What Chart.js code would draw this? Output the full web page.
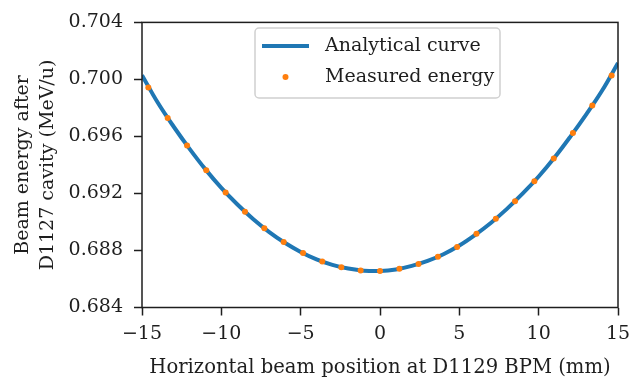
<!DOCTYPE html>
<html>
<head>
<meta charset="utf-8">
<script src="https://cdn.jsdelivr.net/npm/chart.js@4.4.1/dist/chart.umd.min.js"></script>
<style>
  html, body { margin: 0; padding: 0; background: #fff; }
  #wrap { width: 638px; height: 378px; }
</style>
</head>
<body>
<div id="wrap"><canvas id="energyChart" width="638" height="378"></canvas></div>
<script>
// analytical curve
const curveX = [-15, -14, -13, -12, -11, -10, -9, -8, -7, -6, -5, -4, -3, -2, -1, 0,
                1, 2, 3, 4, 5, 6, 7, 8, 9, 10, 11, 12, 13, 14, 15];
const curveY = [0.70030, 0.69836, 0.69668, 0.69513, 0.69369, 0.69239, 0.69124, 0.69021,
                0.68931, 0.68854, 0.68790, 0.68738, 0.68699, 0.68673, 0.68658, 0.68656,
                0.68667, 0.68692, 0.68727, 0.68774, 0.68835, 0.68910, 0.68995, 0.69092,
                0.69200, 0.69319, 0.69452, 0.69599, 0.69755, 0.69922, 0.70115];

// measured points
const measX = [-14.6, -13.38, -12.16, -10.95, -9.73, -8.51, -7.29, -6.07, -4.85, -3.64, -2.44, -1.22, 0,
               1.22, 2.43, 3.65, 4.86, 6.08, 7.3, 8.51, 9.73, 10.95, 12.16, 13.38, 14.6];
const measY = [0.69943, 0.69730, 0.69537, 0.69362, 0.69207, 0.69071, 0.68956, 0.68859, 0.68782,
               0.68722, 0.68683, 0.68660, 0.68656, 0.68671, 0.68706, 0.68756, 0.68825, 0.68917,
               0.69023, 0.69145, 0.69286, 0.69445, 0.69624, 0.69817, 0.70028];

const xTicks = [-15, -10, -5, 0, 5, 10, 15];
const yTicks = [0.684, 0.688, 0.692, 0.696, 0.700, 0.704];

const legendLabels = ['Analytical curve', 'Measured energy'];

const FONT = 'DejaVu Serif';
const INK = '#1e1e1e';

// box around the plot area (all four spines)
const framePlugin = {
    id: 'frame',
    afterDatasetsDraw(chart) {
        const a = chart.chartArea;
        const ctx = chart.ctx;
        ctx.save();
        ctx.strokeStyle = INK;
        ctx.lineWidth = 1.5;
        ctx.strokeRect(a.left, a.top, a.right - a.left, a.bottom - a.top);
        ctx.restore();
    }
};

// legend box in upper middle of plot
const legendPlugin = {
    id: 'boxLegend',
    afterDraw(chart) {
        const ctx = chart.ctx;
        const ds = chart.data.datasets;
        ctx.save();
        ctx.fillStyle = 'rgba(255,255,255,0.8)';
        ctx.strokeStyle = '#d0d0d0';
        ctx.lineWidth = 1.5;
        ctx.beginPath();
        ctx.roundRect(255, 28, 245, 70, 4);
        ctx.fill();
        ctx.stroke();

        // line entry
        ctx.strokeStyle = ds[1].borderColor;
        ctx.lineWidth = 4;
        ctx.beginPath();
        ctx.moveTo(262, 46);
        ctx.lineTo(309, 46);
        ctx.stroke();
        // point entry
        ctx.fillStyle = ds[0].backgroundColor;
        ctx.beginPath();
        ctx.arc(285.5, 77, 3, 0, Math.PI * 2);
        ctx.fill();

        ctx.fillStyle = INK;
        ctx.font = '19px "' + FONT + '"';
        ctx.textBaseline = 'middle';
        ctx.textAlign = 'left';
        ctx.fillText(legendLabels[0], 325, 46);
        ctx.fillText(legendLabels[1], 325, 77);
        ctx.restore();
    }
};

const ctx = document.getElementById('energyChart').getContext('2d');
new Chart(ctx, {
    type: 'scatter',
    data: {
        datasets: [{
            label: legendLabels[1],
            data: measX.map((x, i) => ({x: x, y: measY[i]})),
            backgroundColor: '#ff7f0e',
            borderWidth: 0,
            pointRadius: 3,
            order: 0
        }, {
            label: legendLabels[0],
            data: curveX.map((x, i) => ({x: x, y: curveY[i]})),
            showLine: true,
            borderColor: '#1f77b4',
            backgroundColor: '#1f77b4',
            borderWidth: 4,
            pointRadius: 0,
            tension: 0.4,
            order: 1
        }]
    },
    options: {
        responsive: false,
        animation: false,
        layout: { padding: { left: 0, right: 20, top: 17, bottom: 0 } },
        plugins: {
            legend: { display: false },
            tooltip: { enabled: false }
        },
        scales: {
            x: {
                type: 'linear',
                min: -15,
                max: 15,
                afterBuildTicks: s => { s.ticks = xTicks.map(v => ({value: v})); },
                afterFit: s => { s.height = 70.5; },
                grid: { drawOnChartArea: false, drawTicks: true, tickLength: 8, tickWidth: 1.5, tickColor: INK },
                border: { display: false },
                ticks: {
                    color: INK,
                    padding: 7,
                    font: { family: FONT, size: 19 },
                    callback: v => v < 0 ? '\u2212' + Math.abs(v) : String(v)
                },
                title: {
                    display: true,
                    text: 'Horizontal beam position at D1129 BPM (mm)',
                    color: INK,
                    font: { family: FONT, size: 19.6, lineHeight: 1.0 },
                    padding: { top: 0, bottom: 0 }
                }
            },
            y: {
                type: 'linear',
                min: 0.684,
                max: 0.704,
                afterBuildTicks: s => { s.ticks = yTicks.map(v => ({value: v})); },
                afterFit: s => { s.width = 142; },
                grid: { drawOnChartArea: false, drawTicks: true, tickLength: 8, tickWidth: 1.5, tickColor: INK },
                border: { display: false },
                ticks: {
                    color: INK,
                    padding: 11,
                    font: { family: FONT, size: 19 },
                    callback: v => v.toFixed(3)
                },
                title: {
                    display: true,
                    text: ['Beam energy after', 'D1127 cavity (MeV/u)'],
                    color: INK,
                    font: { family: FONT, size: 19, lineHeight: 1.3 },
                    padding: { top: 11, bottom: 0 }
                }
            }
        }
    },
    plugins: [framePlugin, legendPlugin]
});
</script>
</body>
</html>
